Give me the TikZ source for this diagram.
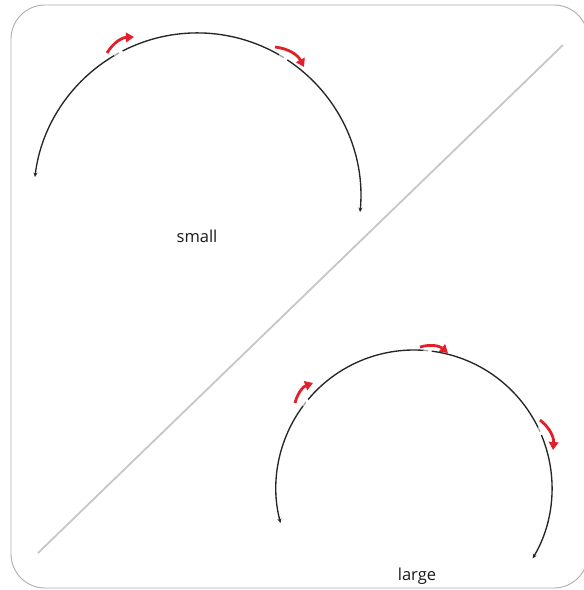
\documentclass[tikz,border=0pt]{standalone}
\usepackage{fontspec}
\setmainfont{Open Sans}
\usetikzlibrary{arrows.meta}
\definecolor{arrred}{HTML}{E3202A}
\tikzset{
  frame/.style={draw=black!32, line width=0.9pt, rounded corners=34pt},
  diag/.style={draw=black!22, line width=1.8pt},
  arcline/.style={draw=black!85, line width=1.35pt},
  arcgray/.style={draw=black!35, line width=1.35pt},
  endtip/.style={arcline, -{Stealth[length=4.5pt,width=4pt]}},
  starttip/.style={arcline, {Stealth[length=4.5pt,width=4pt]}-},
  redarrow/.style={draw=arrred, line width=2.8pt, -{Triangle[length=8pt,width=9.5pt]}},
  lbl/.style={font=\fontsize{16.5}{19}\selectfont, text=black!90}
}
\begin{document}
\begin{tikzpicture}[x=1pt,y=1pt]
\useasboundingbox (0,0) rectangle (584,590);
% frame
\draw[frame] (11,2) rectangle (588,585);
% diagonal
\coordinate (d1) at (38,37);
\coordinate (d2) at (563,545);
\draw[diag] (d1) -- (d2);
% small arc
\coordinate (sc) at (197.3,393.6);
\def\sr{163.5}
\draw[starttip] ([shift={(173.2:\sr)}]sc) arc[start angle=173.2, end angle=120.5, radius=\sr];
\draw[arcgray] ([shift={(120.5:\sr)}]sc) arc[start angle=120.5, end angle=118.6, radius=\sr];
\draw[arcline] ([shift={(117.2:\sr)}]sc) arc[start angle=117.2, end angle=60, radius=\sr];
\draw[arcgray] ([shift={(60:\sr)}]sc) arc[start angle=60, end angle=58.1, radius=\sr];
\draw[endtip] ([shift={(56.6:\sr)}]sc) arc[start angle=56.6, end angle=-5.5, radius=\sr];
% small red arrows
\coordinate (sa1) at (107,537);
\coordinate (sb1) at (134,553);
\coordinate (sa2) at (275,543);
\coordinate (sb2) at (304,523);
\draw[redarrow] (sa1) to[bend left=28] (sb1);
\draw[redarrow] (sa2) to[bend left=28] (sb2);
\node[lbl] (small) at (197,354) {small};
% large arc
\coordinate (lc) at (414,102);
\def\lr{138}
\draw[starttip] ([shift={(194.7:\lr)}]lc) arc[start angle=194.7, end angle=143.5, radius=\lr];
\draw[arcgray] ([shift={(143.5:\lr)}]lc) arc[start angle=143.5, end angle=141.6, radius=\lr];
\draw[arcline] ([shift={(140.1:\lr)}]lc) arc[start angle=140.1, end angle=86, radius=\lr];
\draw[arcgray] ([shift={(86:\lr)}]lc) arc[start angle=86, end angle=84.1, radius=\lr];
\draw[arcline] ([shift={(82.6:\lr)}]lc) arc[start angle=82.6, end angle=26, radius=\lr];
\draw[arcgray] ([shift={(26:\lr)}]lc) arc[start angle=26, end angle=24.1, radius=\lr];
\draw[endtip] ([shift={(22.6:\lr)}]lc) arc[start angle=22.6, end angle=-30.7, radius=\lr];
% large red arrows
\coordinate (la1) at (295,187);
\coordinate (lb1) at (313,207);
\coordinate (la2) at (420,243);
\coordinate (lb2) at (448,237);
\coordinate (la3) at (540,170);
\coordinate (lb3) at (553,140);
\draw[redarrow] (la1) to[bend left=28] (lb1);
\draw[redarrow] (la2) to[bend left=28] (lb2);
\draw[redarrow] (la3) to[bend left=28] (lb3);
\node[lbl] (large) at (417,14) {large};
\end{tikzpicture}
\end{document}
